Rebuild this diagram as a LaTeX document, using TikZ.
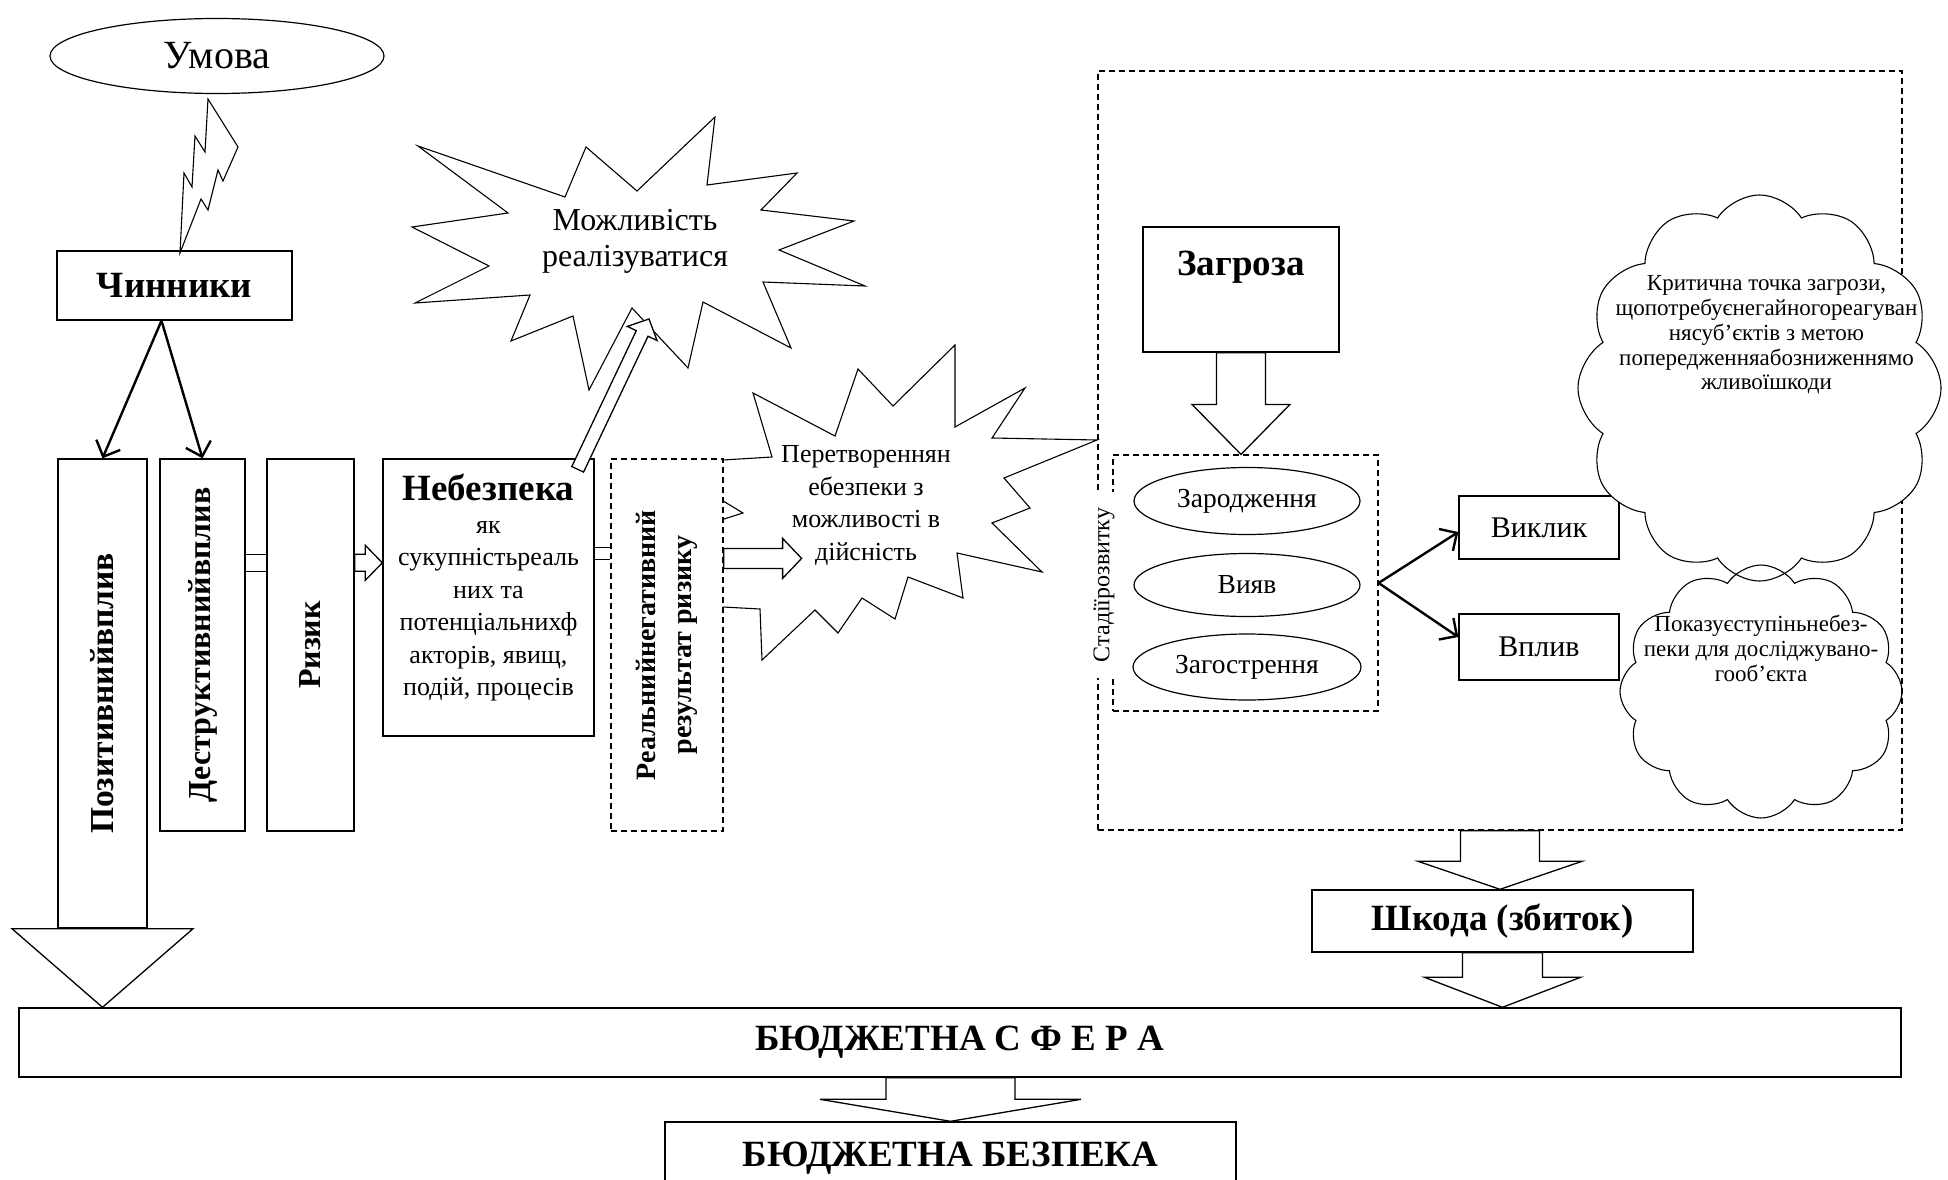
\documentclass[tikz,border=0pt]{standalone}
\usepackage{fontspec}
\setmainfont{Liberation Serif}
\usetikzlibrary{positioning, arrows.meta, shapes.geometric, shapes.symbols, calc}

\begin{document}
\begin{tikzpicture}[
    % Global Styles (1 unit = 1 pixel of the layout, y grows downwards)
    x=1pt, y=-1pt,
    line width=1.3pt,
    line join=miter,
    % Frames
    box/.style={draw, rectangle, inner sep=0pt, line width=1.4pt},
    dbox/.style={box, line width=1.2pt, dash pattern=on 6pt off 4pt},
    oval/.style={draw, ellipse, inner sep=0pt, line width=1.2pt},
    puff/.style={draw, cloud, cloud puffs=12, cloud puff arc=115, cloud ignores aspect, inner sep=0pt, line width=1.1pt},
    star_line/.style={draw, fill=white, line width=1.1pt},
    % Text styles
    t_cond/.style={font=\fontsize{40}{44}\selectfont},
    t_head/.style={font=\bfseries\fontsize{37}{40}\selectfont},
    t_vert/.style={font=\bfseries\fontsize{32}{36}\selectfont},
    t_vert2/.style={font=\bfseries\fontsize{28}{36}\selectfont},
    t_body/.style={font=\fontsize{26}{32.5}\selectfont},
    t_star/.style={font=\fontsize{32}{36}\selectfont},
    t_stage/.style={font=\fontsize{27.5}{30}\selectfont},
    t_mid/.style={font=\fontsize{30}{34}\selectfont},
    t_stad/.style={font=\fontsize{24}{28}\selectfont},
    t_small/.style={font=\fontsize{23}{24.8}\selectfont},
    % Connectors
    thin_arrow/.style={line width=2.4pt, -{Straight Barb[length=13pt, width=26pt]}},
    % two parallel lines between boxes
    fat_link/.style={to path={
        ($(\tikztostart)!#1!90:(\tikztotarget)$) -- ($(\tikztotarget)!#1!-90:(\tikztostart)$)
        ($(\tikztostart)!#1!-90:(\tikztotarget)$) -- ($(\tikztotarget)!#1!90:(\tikztostart)$)}},
    % hollow block arrow: half shaft, half head, head length
    fat_arrow/.style n args={3}{fill=white, to path={
        ($(\tikztotarget)!#3!(\tikztostart)$) coordinate (fahead)
        ($(\tikztostart)!#1!90:(\tikztotarget)$) -- ($(fahead)!#1!-90:(\tikztostart)$)
        -- ($(fahead)!#2!-90:(\tikztostart)$) -- (\tikztotarget)
        -- ($(fahead)!#2!90:(\tikztostart)$) -- ($(fahead)!#1!90:(\tikztostart)$)
        -- ($(\tikztostart)!#1!-90:(\tikztotarget)$) -- cycle}}
]

\useasboundingbox (0,0) rectangle (1948,1180);

%% --- CONDITION AND FACTORS ---
\node[oval, t_cond, minimum width=334pt, minimum height=75pt] (umova) at (217,56) {Умова};
\node[box, t_head, minimum width=235pt, minimum height=69pt] (chyn) at (174.5,285.5) {Чинники};

% Lightning from the condition to the factors
\draw[line width=1.1pt] (208,99) -- (238,147) -- (223,181) -- (218,170) -- (208,210) -- (201,199)
    -- (180,253) -- (184,173) -- (192,187) -- (195,136) -- (205,152) -- cycle;

%% --- STARS (drawn first, boxes cover them) ---
% Star 1: possibility
\draw[star_line] (418,146) -- (565,197) -- (586,147) -- (637,191) -- (715,117) -- (707,185)
    -- (797,173) -- (761,210) -- (854,221) -- (779,250) -- (865,286) -- (763,282) -- (791,348)
    -- (703,302) -- (688,368) -- (632,308) -- (589,390) -- (573,316) -- (511,341) -- (530,295)
    -- (415,303) -- (489,266) -- (412,227) -- (508,213) -- cycle;
\node[t_star, align=center] (mozh) at (635,241) {Можливість\\реалізуватися};

% Star 2: transformation
\draw[star_line] (723,460) -- (772,457) -- (753,393) -- (835,436) -- (858,369) -- (893,406)
    -- (955,345) -- (955,427) -- (1025,388) -- (992,438) -- (1097,440) -- (1004,478)
    -- (1030,508) -- (992,523) -- (1042,572) -- (957,553) -- (963,598) -- (908,577)
    -- (895,619) -- (862,598) -- (838,633) -- (815,610) -- (762,660) -- (760,609)
    -- (723,607) -- (705,600) -- (705,525) -- (743,513) -- (705,490) -- cycle;
\node[t_body, align=center, text depth=0pt] (peretv) at (866,503) {Перетвореннян\\ебезпеки з\\можливості в\\дійсність};

%% --- LEFT CHAIN ---
\node[box, minimum width=89pt, minimum height=469pt,
    label={[font=\bfseries\fontsize{33.5}{36}\selectfont, rotate=90]center:Позитивнийвплив}] (pozyt) at (102.5,693.5) {};
\node[box, minimum width=85pt, minimum height=372pt,
    label={[t_vert, rotate=90]center:Деструктивнийвплив}] (destr) at (202.5,645) {};
\node[box, minimum width=87pt, minimum height=372pt,
    label={[t_vert, rotate=90]center:Ризик}] (rysyk) at (310.5,645) {};
\node[box, minimum width=211pt, minimum height=277pt,
    label={[t_body, align=center, yshift=9.5pt]center:{%
    {\bfseries\fontsize{37}{38}\selectfont Небезпека}\\як\\сукупністьреаль\\них та\\потенціальнихф\\акторів, явищ,\\подій, процесів}}] (neb) at (488.5,597.5) {};
\node[dbox, fill=white, minimum width=112pt, minimum height=372pt,
    label={[t_vert2, rotate=90, align=center]center:{Реальнийнегативний\\результат ризику}}] (real) at (667,645) {};

%% --- THREAT ZONE ---
\node[dbox, minimum width=804pt, minimum height=759pt] (zone) at (1500,450.5) {};
\node[box, minimum width=196pt, minimum height=125pt,
    label={[t_head, anchor=north, inner sep=0pt, yshift=-24pt]north:Загроза}] (zag) at (1241,289.5) {};
\node[dbox, minimum width=265pt, minimum height=256pt] (stages) at (1245.5,583) {};
\node[oval, t_stage, minimum width=226pt, minimum height=67pt] (st1) at (1247,501) {Зародження};
\node[oval, t_stage, minimum width=226pt, minimum height=63pt] (st2) at (1247,585) {Вияв};
\node[oval, t_stage, minimum width=228pt, minimum height=66pt] (st3) at (1247,667) {Загострення};
\node[t_stad, fill=white, rotate=90, inner xsep=16pt, inner ysep=2pt] (stad) at (1104,585) {Стадіїрозвитку};

\node[box, t_mid, minimum width=160pt, minimum height=63pt] (vyklyk) at (1539,527.5) {Виклик};
\node[box, t_mid, minimum width=160pt, minimum height=66pt] (vplyv) at (1539,647) {Вплив};

% Clouds
\node[puff, fill=white, minimum width=363pt, minimum height=386pt,
    label={[t_small, align=center, xshift=7pt, yshift=53pt]center:{Критична точка загрози,\\щопотребуєнегайногореагуван\\нясуб’єктів з метою\\попередженняабозниженнямо\\жливоїшкоди}}] (crit) at (1759.5,388) {};
\node[puff, minimum width=282pt, minimum height=253pt,
    label={[t_small, align=center, yshift=43pt]center:{Показуєступіньнебез-\\пеки для досліджувано-\\гооб’єкта}}] (pokaz) at (1761,691.5) {};

%% --- BOTTOM ---
\node[box, t_head, minimum width=381pt, minimum height=62pt] (shkoda) at (1502.5,921) {Шкода (збиток)};
\node[box, t_head, minimum width=1882pt, minimum height=69pt] (sfera) at (960,1042.5) {БЮДЖЕТНА С Ф Е Р А};
\node[box, t_head, minimum width=571pt, minimum height=72pt] (bezp) at (950.5,1158) {БЮДЖЕТНА БЕЗПЕКА};

%% --- CONNECTORS ---
% Factors split
\coordinate (split) at ($(chyn.south)+(-13,0)$);
\draw[thin_arrow] (split) -- (pozyt.north);
\draw[thin_arrow] (split) -- (destr.north);

% Positive influence runs down into the budget sphere
\draw[fill=white] ($(pozyt.south)+(-90.5,0)$) -- ($(pozyt.south)+(90.5,0)$) -- (pozyt.south |- sfera.north) -- cycle;

% Chain links
\coordinate (rys_out) at ($(rysyk.north east)+(0,104.5)$);
\coordinate (rys_in) at (rysyk.west |- rys_out);
\coordinate (destr_out) at (destr.east |- rys_out);
\coordinate (neb_in) at (neb.west |- rys_out);
\draw[fat_link=8.5pt] (destr_out) to (rys_in);
\draw[fat_arrow={8.5pt}{17.5pt}{17pt}] (rys_out) to (neb_in);

\coordinate (neb_out) at ($(neb.north east)+(0,95)$);
\coordinate (real_in) at (real.west |- neb_out);
\draw[fat_link=6pt] (neb_out) to (real_in);

\coordinate (real_out) at ($(real.north east)+(0,100)$);
\coordinate (peretv_in) at ($(real_out)+(78,0)$);
\draw[fat_arrow={10pt}{20pt}{19pt}] (real_out) to (peretv_in);

\coordinate (neb_up) at ($(neb.north east)+(-17,11)$);
\coordinate (mozh_in) at ($(mozh.center)+(14,78)$);
\draw[fat_arrow={6.5pt}{16.5pt}{16pt}] (neb_up) to (mozh_in);

% Threat to stages
\coordinate (zag_tip) at (zag.south |- stages.north);
\draw[fat_arrow={24.5pt}{49pt}{50pt}] (zag.south) to (zag_tip);

% Stages to challenge and impact
\draw[thin_arrow] (stages.east) -- ($(vyklyk.west)+(0,4.5)$);
\draw[thin_arrow] (stages.east) -- ($(vplyv.west)+(0,-10)$);

% Down to damage and the budget
\coordinate (shkoda_in) at (zone.south |- shkoda.north);
\draw[fat_arrow={39.5pt}{82pt}{28pt}] (zone.south) to (shkoda_in);
\coordinate (sfera_in) at (shkoda.south |- sfera.north);
\draw[fat_arrow={40pt}{78pt}{30pt}] (shkoda.south) to (sfera_in);
\coordinate (sfera_out) at (bezp.north |- sfera.south);
\draw[fat_arrow={64.5pt}{130.5pt}{22pt}] (sfera_out) to (bezp.north);

\end{tikzpicture}
\end{document}
